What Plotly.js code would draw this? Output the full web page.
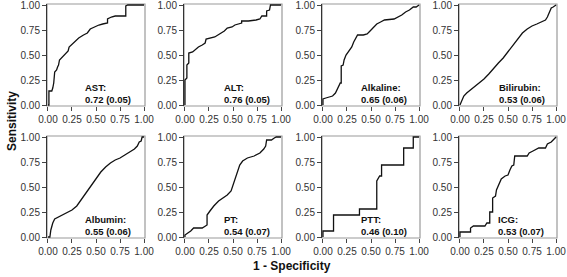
<!DOCTYPE html>
<html>
<head>
<meta charset="utf-8">
<script src="https://cdn.plot.ly/plotly-3.0.1.min.js"></script>
<style>html,body{margin:0;padding:0;background:#fff;}#chart{width:567px;height:277px;}</style>
</head>
<body>
<div id="chart"></div>
<script>
// ---- Data ----
const markers = ["AST", "ALT", "Alkaline", "Bilirubin", "Albumin", "PT", "PTT", "ICG"];
const aucLabels = ["0.72 (0.05)", "0.76 (0.05)", "0.65 (0.06)", "0.53 (0.06)", "0.55 (0.06)", "0.54 (0.07)", "0.46 (0.10)", "0.53 (0.07)"];
const tickVals = [0, 0.25, 0.5, 0.75, 1];
const tickLabels = ["0.00", "0.25", "0.50", "0.75", "1.00"];

const astFpr = [0,0.01,0.01,0.04,0.05,0.06,0.07,0.09,0.10,0.11,0.12,0.15,0.18,0.21,0.22,0.25,0.28,0.32,0.37,0.41,0.44,0.48,0.53,0.57,0.60,0.62,0.62,0.66,0.70,0.80,0.81,0.81,0.83,1];
const astTpr = [0,0,0.14,0.14,0.17,0.22,0.33,0.35,0.38,0.40,0.45,0.48,0.51,0.54,0.58,0.61,0.64,0.67,0.70,0.72,0.76,0.78,0.80,0.81,0.82,0.82,0.86,0.88,0.89,0.89,0.89,0.99,1,1];

const altFpr = [0,0,0.02,0.02,0.04,0.04,0.08,0.11,0.14,0.18,0.21,0.22,0.27,0.31,0.36,0.41,0.44,0.49,0.52,0.55,0.59,0.59,0.66,0.74,0.78,0.80,0.85,0.85,0.88,0.89,1];
const altTpr = [0,0.25,0.27,0.40,0.42,0.52,0.53,0.56,0.58,0.60,0.62,0.66,0.67,0.68,0.71,0.74,0.77,0.78,0.80,0.81,0.82,0.84,0.84,0.85,0.86,0.89,0.89,0.94,0.95,1,1];

const alkFpr = [0,0,0.03,0.06,0.10,0.13,0.16,0.18,0.19,0.19,0.21,0.22,0.24,0.27,0.30,0.32,0.34,0.36,0.42,0.46,0.49,0.52,0.56,0.60,0.64,0.74,0.78,0.82,0.86,0.90,0.94,0.97,1];
const alkTpr = [0,0.06,0.07,0.08,0.09,0.12,0.18,0.22,0.22,0.39,0.40,0.45,0.50,0.54,0.58,0.63,0.67,0.70,0.70,0.71,0.74,0.77,0.81,0.83,0.85,0.86,0.88,0.90,0.93,0.95,0.98,0.98,1];

const bilFpr = [0,0.02,0.04,0.07,0.11,0.15,0.20,0.25,0.30,0.35,0.40,0.45,0.50,0.55,0.60,0.65,0.70,0.75,0.80,0.85,0.89,0.91,0.93,0.95,0.97,1];
const bilTpr = [0,0.05,0.09,0.12,0.15,0.18,0.22,0.26,0.31,0.37,0.42,0.47,0.53,0.59,0.66,0.72,0.76,0.79,0.81,0.83,0.85,0.88,0.93,0.97,0.98,1];

const albFpr = [0,0.02,0.03,0.05,0.07,0.09,0.14,0.20,0.25,0.30,0.35,0.40,0.45,0.50,0.55,0.60,0.65,0.70,0.75,0.80,0.85,0.90,0.93,0.95,0.97,0.98,1];
const albTpr = [0,0,0.07,0.14,0.18,0.19,0.21,0.24,0.27,0.31,0.38,0.45,0.52,0.59,0.65,0.70,0.74,0.77,0.79,0.82,0.85,0.88,0.91,0.95,0.96,1,1];

const ptFpr = [0,0,0.03,0.06,0.09,0.18,0.23,0.23,0.26,0.30,0.35,0.39,0.44,0.48,0.51,0.54,0.57,0.60,0.65,0.72,0.78,0.82,0.84,0.85,0.90,0.93,0.95,1];
const ptTpr = [0,0.02,0.04,0.06,0.09,0.09,0.12,0.22,0.26,0.31,0.36,0.39,0.42,0.46,0.55,0.64,0.72,0.76,0.79,0.81,0.84,0.88,0.91,0.97,0.97,0.99,1,1];

const pttFpr = [0,0,0.11,0.11,0.38,0.38,0.56,0.56,0.59,0.61,0.61,0.84,0.84,0.94,0.94,1];
const pttTpr = [0,0.06,0.06,0.22,0.22,0.28,0.28,0.56,0.61,0.61,0.72,0.72,0.89,0.89,1,1];

const icgFpr = [0,0,0.11,0.11,0.14,0.26,0.28,0.31,0.31,0.34,0.34,0.37,0.38,0.40,0.43,0.47,0.50,0.52,0.54,0.56,0.57,0.70,0.72,0.76,0.80,0.82,0.89,0.91,0.95,0.97,1];
const icgTpr = [0,0.05,0.05,0.09,0.11,0.11,0.14,0.14,0.25,0.25,0.39,0.41,0.47,0.52,0.58,0.61,0.62,0.67,0.71,0.72,0.81,0.81,0.84,0.86,0.88,0.89,0.89,0.93,0.95,0.97,1];

const fprs = [astFpr, altFpr, alkFpr, bilFpr, albFpr, ptFpr, pttFpr, icgFpr];
const tprs = [astTpr, altTpr, alkTpr, bilTpr, albTpr, ptTpr, pttTpr, icgTpr];

// ---- Layout geometry ----
const W = 567, H = 277;
const colPx = [[47,145],[184,282],[322,420],[459,557]];
const rowPx = [[4,106],[136,238]];
const labelX = [0.36, 0.39, 0.38, 0.39, 0.36, 0.39, 0.38, 0.38];
const FONT = "Liberation Sans, Arial, sans-serif";

const traces = [];
const layout = {
  width: W, height: H,
  margin: {l:0, r:0, t:0, b:0},
  paper_bgcolor: "#fff", plot_bgcolor: "#fff",
  showlegend: false,
  font: {family: FONT, color: "#222"},
  shapes: [], annotations: []
};

markers.forEach((m, i) => {
  const r = Math.floor(i / 4), c = i % 4;
  const sfx = i === 0 ? "" : String(i + 1);
  const xa = "x" + sfx, ya = "y" + sfx;
  traces.push({
    x: fprs[i], y: tprs[i], xaxis: xa, yaxis: ya,
    type: "scatter", mode: "lines",
    line: {color: "#111", width: 1.3},
    hoverinfo: "skip"
  });
  const common = {
    range: [-0.01, 1.01], tickvals: tickVals, ticktext: tickLabels,
    ticks: "outside", ticklen: 4, tickwidth: 1, tickcolor: "#444",
    tickfont: {size: 10, color: "#333", family: FONT},
    ticklabeloverflow: "allow",
    showgrid: false, zeroline: false, fixedrange: true
  };
  layout["xaxis" + sfx] = Object.assign({}, common, {
    domain: [colPx[c][0] / W, colPx[c][1] / W],
    anchor: ya, showline: false
  });
  layout["yaxis" + sfx] = Object.assign({}, common, {
    domain: [1 - rowPx[r][1] / H, 1 - rowPx[r][0] / H],
    anchor: xa, showline: true, linecolor: "#333", linewidth: 1
  });
  layout.shapes.push({
    type: "rect", xref: xa + " domain", yref: ya + " domain",
    x0: 0, x1: 1, y0: 0, y1: 1, layer: "below",
    line: {color: "#9a9a9a", width: 1.2}
  });
  layout.annotations.push({
    xref: xa, yref: ya, x: labelX[i], y: 0.12,
    xanchor: "left", yanchor: "middle", align: "left", showarrow: false,
    text: "<b>" + m + ":</b><br><b>" + aucLabels[i] + "</b>",
    font: {size: 9.5, color: "#111", family: FONT}
  });
});

layout.annotations.push({
  xref: "paper", yref: "paper", x: 292 / W, y: 1 - 266 / H,
  xanchor: "center", yanchor: "middle", showarrow: false,
  text: "<b>1 - Specificity</b>", font: {size: 12, color: "#111", family: FONT}
});
layout.annotations.push({
  xref: "paper", yref: "paper", x: 12 / W, y: 1 - 121 / H,
  xanchor: "center", yanchor: "middle", showarrow: false, textangle: -90,
  text: "<b>Sensitivity</b>", font: {size: 12, color: "#111", family: FONT}
});

Plotly.newPlot("chart", traces, layout, {staticPlot: true, displayModeBar: false});
</script>
</body>
</html>
